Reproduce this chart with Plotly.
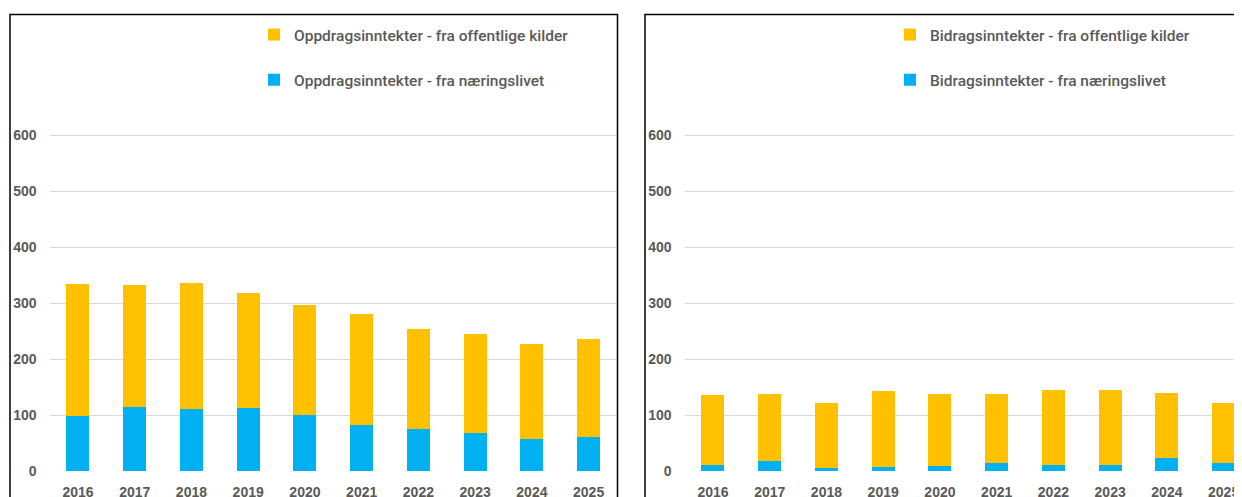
import plotly.graph_objects as go

years = ["2016", "2017", "2018", "2019", "2020", "2021", "2022", "2023", "2024", "2025"]

# Oppdragsinntekter (venstre panel)
oppdrag_naering = [99, 114, 110, 112, 100, 83, 75, 67, 57, 60]
oppdrag_offentlig = [235, 218, 225, 206, 196, 198, 178, 178, 169, 175]

# Bidragsinntekter (høyre panel)
bidrag_naering = [11, 17, 5, 8, 9, 14, 10, 11, 23, 15]
bidrag_offentlig = [124, 120, 117, 134, 128, 124, 134, 133, 117, 107]

y_ticks = [0, 100, 200, 300, 400, 500, 600]

YELLOW = "#FFC000"
BLUE = "#00B0F0"
GRAY = "#595959"
# page body has an 8px margin, so the figure starts at (8, 8) of the window
OFF = 8
W, H = 1242 - OFF, 497 - OFF
ZERO_Y = 471 - OFF          # pixel row of the 0 line
TOP_Y = 14 - OFF            # pixel row of the frame top


def px(x):
    return (x - OFF) / W


def py(y):
    return (ZERO_Y - (y - OFF)) / (ZERO_Y - TOP_Y)


fig = go.Figure()

fig.add_trace(go.Bar(x=years, y=oppdrag_naering, name="Oppdragsinntekter - fra næringslivet",
                     marker_color=BLUE, legend="legend", legendgroup="a1", legendrank=2,
                     xaxis="x", yaxis="y"))
fig.add_trace(go.Bar(x=years, y=oppdrag_offentlig, name="Oppdragsinntekter - fra offentlige kilder",
                     marker_color=YELLOW, legend="legend", legendgroup="a2", legendrank=1,
                     xaxis="x", yaxis="y"))
fig.add_trace(go.Bar(x=years, y=bidrag_naering, name="Bidragsinntekter - fra næringslivet",
                     marker_color=BLUE, legend="legend2", legendgroup="b1", legendrank=2,
                     xaxis="x2", yaxis="y2"))
fig.add_trace(go.Bar(x=years, y=bidrag_offentlig, name="Bidragsinntekter - fra offentlige kilder",
                     marker_color=YELLOW, legend="legend2", legendgroup="b2", legendrank=1,
                     xaxis="x2", yaxis="y2"))
fig.update_traces(marker_line_width=0)

tick_font = dict(family="Liberation Sans, Arial, sans-serif", size=14, color=GRAY, weight="bold")
legend_font = dict(family="Roboto, sans-serif", size=15.5, color=GRAY, weight=500)

xcommon = dict(type="category", showgrid=False, zeroline=False, showline=False, ticks="",
               tickfont=tick_font, ticklabelstandoff=11, automargin=False)
ycommon = dict(range=[0, (ZERO_Y - TOP_Y) / 0.56], tickvals=y_ticks, showgrid=True,
               gridcolor="#D9D9D9", gridwidth=1, zeroline=False, showline=False, ticks="",
               tickfont=tick_font, ticklabelstandoff=12, automargin=False)

fig.update_layout(
    width=W, height=H,
    margin=dict(l=0, r=0, t=TOP_Y, b=H - ZERO_Y, autoexpand=False),
    paper_bgcolor="white", plot_bgcolor="white",
    barmode="stack", bargap=0.595,
    xaxis=dict(domain=[px(49.6), px(617)], range=[-0.5, 9.5], **xcommon),
    yaxis=dict(anchor="x", **ycommon),
    xaxis2=dict(domain=[px(684.6), 1.0], range=[-0.5, -0.5 + (1242 - 684.6) / 56.74],
                anchor="y2", **xcommon),
    yaxis2=dict(anchor="x2", **ycommon),
    legend=dict(x=px(294 - 40), y=py(18), xanchor="left", yanchor="top",
                traceorder="grouped", tracegroupgap=22, font=legend_font,
                bgcolor="rgba(0,0,0,0)"),
    legend2=dict(x=px(930 - 40), y=py(18), xanchor="left", yanchor="top",
                 traceorder="grouped", tracegroupgap=22, font=legend_font,
                 bgcolor="rgba(0,0,0,0)"),
    showlegend=True,
)

# panel frames (bottom and right edges fall outside the picture)
fig.add_shape(type="rect", xref="paper", yref="paper", x0=px(10), x1=px(617.5), y0=-0.3, y1=py(14.5),
              line=dict(color="black", width=1.5), layer="above")
fig.add_shape(type="rect", xref="paper", yref="paper", x0=px(645), x1=1.1, y0=-0.3, y1=py(14.5),
              line=dict(color="black", width=1.5), layer="above")

fig.write_html("out.html")
